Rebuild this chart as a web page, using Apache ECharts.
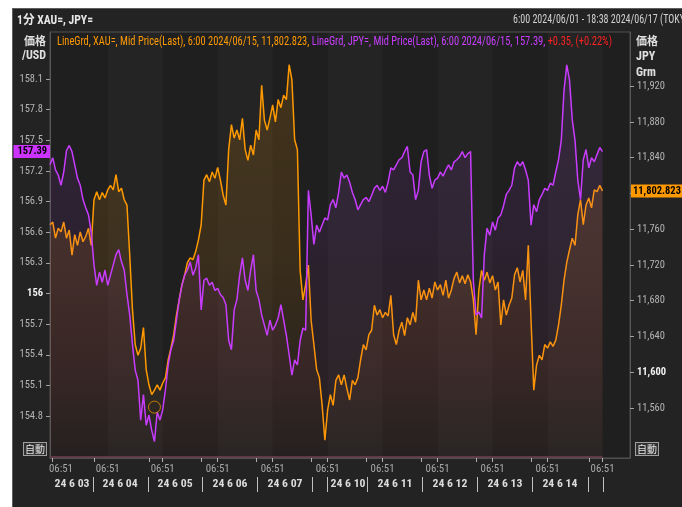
<!DOCTYPE html>
<html><head><meta charset="utf-8">
<script src="https://cdn.jsdelivr.net/npm/echarts@6/dist/echarts.min.js"></script>
<style>
html,body{margin:0;padding:0;background:#fff;}
#wrap{position:relative;width:682px;height:507px;overflow:hidden;background:#fff;}
#panel{position:absolute;left:12px;top:8px;width:670px;height:499px;background:#232323;border-top:1px solid #5e5e5e;border-left:1px solid #5e5e5e;box-sizing:border-box;}
#chart{position:absolute;left:0;top:0;width:682px;height:507px;}
</style></head><body>
<div id="wrap"><div id="panel"></div><div id="chart"></div></div>
<script>
// ---- data ----
const jpyValues = [
157.26,157.33,157.21,157.16,157.06,157.19,157.40,157.45,157.39,157.26,
157.13,157.06,156.92,156.84,156.77,156.60,156.28,156.08,156.21,156.11,
156.23,156.08,156.18,156.28,156.38,156.43,156.31,156.23,155.99,155.79,
155.50,155.25,155.15,154.76,155.01,154.71,154.81,154.66,154.55,154.84,
154.76,154.86,155.06,155.30,155.45,155.54,155.74,155.94,156.08,156.18,
156.23,156.31,156.18,156.25,156.38,155.84,156.13,156.15,156.08,156.11,
156.03,156.05,155.99,155.96,155.89,155.54,155.45,155.84,155.94,156.18,
156.35,156.13,156.03,156.23,156.38,156.03,155.94,155.79,155.69,155.59,
155.74,155.64,155.69,155.76,155.89,155.74,155.59,155.40,155.20,155.35,
155.30,155.54,155.66,155.64,157.01,156.77,156.48,156.67,156.60,156.67,
156.74,156.72,156.87,156.92,156.84,156.99,157.19,157.13,157.16,157.09,
156.99,156.92,156.82,156.87,156.92,156.94,156.90,156.96,157.03,157.06,
157.01,157.05,156.99,157.09,157.23,157.21,157.26,157.31,157.33,157.39,
157.44,157.19,157.16,156.92,157.01,157.29,157.39,157.41,157.16,157.03,
157.11,157.13,157.19,157.15,157.21,157.26,157.21,157.29,157.31,157.34,
157.39,157.33,157.37,157.39,156.13,155.79,155.82,155.76,156.38,156.64,
156.57,156.70,156.62,156.74,156.77,156.86,156.97,157.01,157.06,157.23,
157.29,157.25,157.29,157.21,157.11,156.67,156.87,156.80,156.92,156.97,
157.03,157.01,157.08,157.06,157.19,157.31,157.50,157.99,158.24,158.09,
157.70,157.50,157.11,156.92,157.31,157.41,157.23,157.33,157.29,157.36,
157.43,157.39
];
const xauValues = [
11765,11768,11750,11761,11757,11768,11750,11759,11731,11754,
11742,11757,11746,11752,11761,11742,11793,11802,11793,11801,
11795,11804,11809,11804,11821,11802,11806,11793,11787,11731,
11670,11631,11619,11627,11650,11603,11586,11575,11580,11586,
11580,11588,11594,11614,11627,11642,11664,11681,11698,11709,
11723,11728,11726,11735,11748,11765,11815,11821,11813,11824,
11817,11829,11815,11798,11787,11849,11877,11862,11871,11860,
11884,11849,11837,11854,11843,11871,11860,11921,11882,11871,
11884,11899,11880,11905,11896,11910,11905,11944,11927,11860,
11849,11714,11681,11698,11720,11658,11631,11603,11594,11563,
11524,11558,11575,11563,11591,11597,11586,11597,11582,11569,
11591,11586,11594,11614,11631,11625,11642,11647,11675,11664,
11670,11661,11667,11663,11686,11642,11631,11647,11656,11641,
11661,11653,11667,11656,11703,11681,11692,11681,11694,11683,
11701,11692,11698,11686,11703,11683,11692,11705,11712,11700,
11708,11699,11709,11701,11681,11642,11692,11714,11703,11712,
11700,11708,11692,11701,11653,11681,11664,11675,11683,11709,
11717,11701,11714,11681,11742,11658,11580,11608,11619,11614,
11631,11627,11634,11629,11636,11653,11675,11703,11723,11737,
11750,11742,11776,11793,11765,11787,11795,11784,11804,11802,
11809,11802.823
];
const leftTicks = [154.8,155.1,155.4,155.7,156,156.3,156.6,156.9,157.2,157.5,157.8,158.1];
const rightTicks = [11560,11600,11640,11680,11720,11760,11800,11840,11880,11920];
const timeLabelIdx = [4,21,41,61,81,101,121,141,161,181,201];
const timeTickIdx = [1,16,36,41,55,61,75,81,95,101,115,121,135,141,155,161,175,181,196,201];
const dateLabels = ['24 6 03','24 6 04','24 6 05','24 6 06','24 6 07','24 6 10','24 6 11','24 6 12','24 6 13','24 6 14'];
const dateLabelPos = [8,25.5,45.5,65.5,85.5,108.4,125.5,145.5,165.5,185.5];
const dateSepPos = [15.6,35.6,55.3,75.3,95.3,100.8,115.3,135.3,155.3,175.3,195.7,201.2];
const dayBands = [[21,41],[61,81],[101,121],[141,161],[181,201]];
const lastJpy = 157.39, lastXau = 11802.823;
const ringPoint = [38, 11561];
const slotCount = 212;
const legendParts = ['LineGrd, XAU=, Mid Price(Last), 6:00 2024/06/15, 11,802.823, ',
                     'LineGrd, JPY=, Mid Price(Last), 6:00 2024/06/15, 157.39, ',
                     '+0.35, (+0.22%)'];

// ---- font pick ----
const cv = document.createElement('canvas').getContext('2d');
function hasFont(f){
  const t='mmmmmmmmmmlli 0123456789WWw';
  for (const base of ['monospace','serif']) {
    cv.font='20px '+base; const a=cv.measureText(t).width;
    cv.font='20px "'+f+'", '+base; const b=cv.measureText(t).width;
    if (Math.abs(a-b)>0.5) return true;
  }
  return false;
}
let F = null;
for (const f of ['Liberation Sans Narrow','Roboto Condensed','Noto Sans Condensed','Open Sans Condensed','DejaVu Sans Condensed']) { if (hasFont(f)) { F=f; break; } }
if (!F) F = 'Liberation Sans';
const CJK = '"Noto Sans CJK JP"';
function tw(text, font){ cv.font = font; return cv.measureText(text).width; }
function fitSize(text, target, bold, lo, hi){
  const w = tw(text, (bold?'bold ':'')+'12px "'+F+'"');
  return Math.max(lo, Math.min(hi, 12*target/w));
}
const AXL = fitSize('158.1', 22, false, 10.5, 12);
const AXR = fitSize('11,920', 27, false, 10.5, 12);
const AXT = fitSize('06:51', 24, false, 10.5, 12);
const AXD = fitSize('24 6 03', 35, true, 9.5, 12);
const TAG = fitSize('11,802.823', 48, true, 10, 12);

const categories = Array.from({length: slotCount}, (_, i) => String(i));

// legend geometry
const legFont = '12px "'+F+'"';
const lw = legendParts.map(p => tw(p, legFont));
const legScale = 555 / (lw[0]+lw[1]+lw[2]);
const legColors = ['#ff9900','#c83cff','#ff1e1e'];
const legendEls = [];
let lx = 57;
legendParts.forEach((p,i)=>{
  legendEls.push({type:'text', x:lx, y:42, scaleX:legScale, silent:true,
    style:{text:p, font:legFont, fill:legColors[i], verticalAlign:'middle', align:'left'}});
  lx += lw[i]*legScale;
});
const h1Font = 'bold 12px "'+F+'", '+CJK;
const h1 = '1分 XAU=, JPY=';
const h1Scale = 76 / tw(h1, h1Font);
const h2Font = '12px "'+F+'"';
const h2Scale = 147 / tw('6:00 2024/06/01 - 18:38 2024/06/17 ', h2Font);

const chart = echarts.init(document.getElementById('chart'), null, {renderer:'canvas'});
const hidden = {color:'rgba(0,0,0,0)', width:1, type:'solid'};
const option = {
  animation: false,
  backgroundColor: 'transparent',
  grid: {left:50, right:52, top:32, bottom:49, show:true, backgroundColor:'#1f1f1f', borderColor:'#505050', borderWidth:1},
  xAxis: [
    { type:'category', data: categories, boundaryGap:false, gridIndex:0,
      axisLine:{show:true, lineStyle:{color:'#505050'}},
      axisTick:{show:true, interval:(i)=>timeTickIdx.includes(i), length:4, lineStyle:{color:'#b0b0b0'}},
      axisLabel:{interval:(i)=>timeLabelIdx.includes(i), formatter:()=> '06:51', margin:6, color:'#a8a8a8', fontFamily:F, fontSize:AXT},
      splitLine:{show:false} },
    { type:'value', min:0, max:slotCount-1, position:'bottom', offset:19, gridIndex:0,
      axisLine:{show:false},
      axisTick:{show:true, customValues:dateSepPos, length:15, lineStyle:{color:'#c0c0c0'}},
      axisLabel:{customValues:dateLabelPos, formatter:(v)=>{const k=dateLabelPos.findIndex(d=>Math.abs(d-v)<1e-6); return k>=0?dateLabels[k]:'';},
                 margin:1, color:'#dcdcdc', fontWeight:'bold', fontFamily:F, fontSize:AXD},
      splitLine:{show:false} }
  ],
  yAxis: [
    { type:'value', position:'left', min:154.389, max:158.561,
      axisLine:{show:true, lineStyle:{color:'#565656'}},
      axisTick:{show:true, customValues:leftTicks, length:4, lineStyle:{color:'#a0a0a0'}},
      axisLabel:{customValues:leftTicks, margin:7, color:'#b4b4b4', fontFamily:F, fontSize:AXL,
        formatter:(v)=> Math.abs(v-156)<1e-9 ? '{b|156}' : v.toFixed(1),
        rich:{b:{fontWeight:'bold', color:'#f0f0f0', fontFamily:F, fontSize:AXL}}},
      splitLine:{show:false} },
    { type:'value', position:'right', min:11504.1, max:11980.6,
      axisLine:{show:true, lineStyle:{color:'#565656'}},
      axisTick:{show:true, customValues:rightTicks, length:4, lineStyle:{color:'#a0a0a0'}},
      axisLabel:{customValues:rightTicks, margin:7, color:'#b4b4b4', fontFamily:F, fontSize:AXR,
        formatter:(v)=> v===11600 ? '{b|11,600}' : v.toLocaleString('en-US'),
        rich:{b:{fontWeight:'bold', color:'#f0f0f0', fontFamily:F, fontSize:AXR}}},
      splitLine:{show:false} }
  ],
  series: [
    { type:'line', data:[], xAxisIndex:0, yAxisIndex:0, z:1, silent:true,
      markArea:{silent:true, itemStyle:{color:'rgba(255,255,255,0.025)'},
        data: dayBands.map(b=>[{xAxis:b[0]},{xAxis:b[1]}])} },
    { name:'XAU', type:'line', data: xauValues, xAxisIndex:0, yAxisIndex:1, z:2,
      symbol:'none', showSymbol:false,
      lineStyle:{color:'#ff9900', width:1.5},
      areaStyle:{origin:'start', color: new echarts.graphic.LinearGradient(0,0,0,1,[
        {offset:0, color:'rgba(255,160,0,0.22)'},
        {offset:0.5, color:'rgba(255,150,0,0.17)'},
        {offset:1, color:'rgba(255,120,0,0.02)'}])},
      markLine:{silent:true, symbol:['none','none'], lineStyle:hidden,
        data:[{yAxis:lastXau, lineStyle:hidden, label:{show:true, position:'end', distance:1, formatter:'11,802.823',
          backgroundColor:'#ff9900', color:'#000', fontWeight:'bold', fontFamily:F, fontSize:TAG, padding:[2,2,1,2]}}]} },
    { name:'JPY', type:'line', data: jpyValues, xAxisIndex:0, yAxisIndex:0, z:3,
      symbol:'none', showSymbol:false,
      lineStyle:{color:'#c83cff', width:1.5},
      areaStyle:{origin:'start', color: new echarts.graphic.LinearGradient(0,0,0,1,[
        {offset:0, color:'rgba(185,65,255,0.17)'},
        {offset:0.45, color:'rgba(180,60,230,0.12)'},
        {offset:0.8, color:'rgba(200,60,140,0.09)'},
        {offset:1, color:'rgba(200,60,120,0.02)'}])},
      markLine:{silent:true, symbol:['none','none'],
        data:[
          {yAxis:lastJpy, lineStyle:hidden, label:{show:true, position:'start', distance:0, formatter:'157.39',
            backgroundColor:'#cc33ff', color:'#000', fontWeight:'bold', fontFamily:F, fontSize:TAG, padding:[2,3,1,4]}},
          [{coord:[0,154.398], lineStyle:{color:'#6e4050', width:1.5, type:'solid'}, label:{show:false}},
           {coord:[jpyValues.length-1,154.398]}]
        ]} },
    { type:'scatter', data:[ringPoint], xAxisIndex:0, yAxisIndex:1, z:5, silent:true,
      symbol:'circle', symbolSize:12,
      itemStyle:{color:'rgba(0,0,0,0)', borderColor:'#e89000', borderWidth:1} }
  ],
  graphic: [
    {type:'text', x:17, y:21, scaleX:h1Scale, silent:true, style:{text:h1, font:h1Font, fill:'#e8e8e8', verticalAlign:'middle'}},
    {type:'text', x:513, y:20, scaleX:h2Scale, silent:true, style:{text:'6:00 2024/06/01 - 18:38 2024/06/17 (TOKYO)', font:h2Font, fill:'#d0d0d0', verticalAlign:'middle'}},
    ...legendEls,
    {type:'text', x:46, y:41, silent:true, style:{text:'価格', font:'bold 11px '+CJK, fill:'#e0e0e0', align:'right', verticalAlign:'middle'}},
    {type:'text', x:46, y:56, silent:true, style:{text:'/USD', font:'bold 12px "'+F+'"', fill:'#e0e0e0', align:'right', verticalAlign:'middle'}},
    {type:'text', x:636, y:41, silent:true, style:{text:'価格', font:'bold 11px '+CJK, fill:'#e0e0e0', align:'left', verticalAlign:'middle'}},
    {type:'text', x:636, y:57, silent:true, style:{text:'JPY', font:'bold 12px "'+F+'"', fill:'#e0e0e0', align:'left', verticalAlign:'middle'}},
    {type:'text', x:636, y:73, silent:true, style:{text:'Grm', font:'bold 12px "'+F+'"', fill:'#e0e0e0', align:'left', verticalAlign:'middle'}},
    {type:'text', x:24, y:443, silent:true, style:{text:'自動', font:'10px '+CJK, fill:'#e6e6e6', borderColor:'#a0a0a0', borderWidth:1, padding:[1,1,1,1], backgroundColor:'#303030'}},
    {type:'text', x:636, y:443, silent:true, style:{text:'自動', font:'10px '+CJK, fill:'#e6e6e6', borderColor:'#a0a0a0', borderWidth:1, padding:[1,1,1,1], backgroundColor:'#303030'}}
  ]
};
chart.setOption(option);
</script>
</body></html>
